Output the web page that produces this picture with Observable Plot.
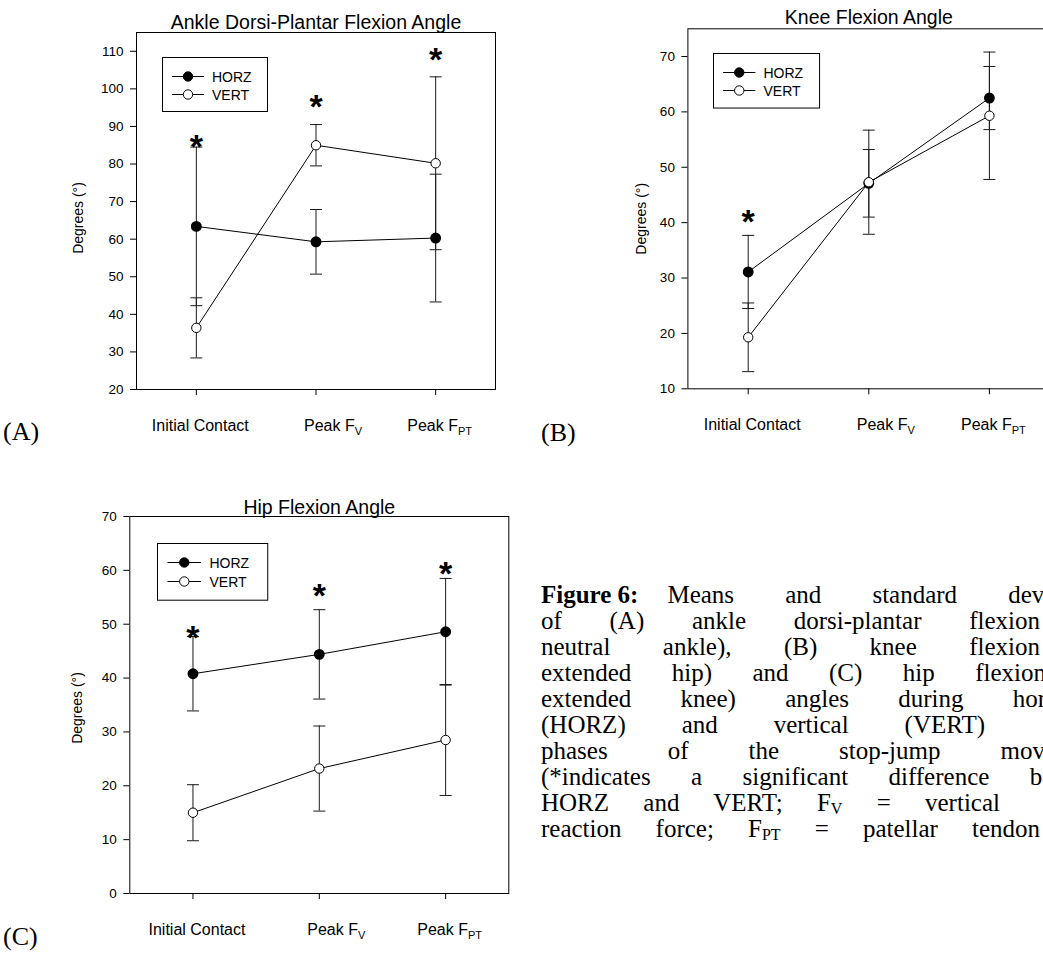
<!DOCTYPE html>
<html>
<head>
<meta charset="utf-8">
<script src="https://cdn.jsdelivr.net/npm/d3@7"></script>
<script src="https://cdn.jsdelivr.net/npm/@observablehq/plot@0.6"></script>
<style>
  html, body { margin: 0; padding: 0; background: #fff; overflow: hidden; }
  #page { position: relative; width: 1043px; height: 954px; overflow: hidden; background: #fff; }
  #caption { position: absolute; left: 541px; top: 582px;
    font-family: "Liberation Serif", "Times New Roman", serif; font-size: 25px; color: #000; }
  #caption .cl { line-height: 26px; height: 26px; text-align: justify; text-align-last: justify; white-space: normal; overflow: visible; }
  #caption sub { font-size: 16px; vertical-align: -3px; line-height: 0; }
  #caption .lead { display: inline-block; font-weight: bold; }
  #caption .gap { display: inline-block; width: 29px; }
</style>
</head>
<body>
<div id="page"></div>
<script>
// ---------------- data ----------------
const phases = ["Initial Contact", "Peak F_V", "Peak F_PT"];
const groups = ["HORZ", "VERT"];
const yLabel = "Degrees (°)";

const ankleTitle = "Ankle Dorsi-Plantar Flexion Angle";
const ankleTicks = [20, 30, 40, 50, 60, 70, 80, 90, 100, 110];
const ankleHorzMean = [63.4, 59.3, 60.3];
const ankleHorzSD = [21.1, 8.6, 17.0];
const ankleVertMean = [36.4, 85.0, 80.2];
const ankleVertSD = [8.0, 5.5, 23.0];
const ankleStars = [86.7, 97.4, 109.8];

const kneeTitle = "Knee Flexion Angle";
const kneeTicks = [10, 20, 30, 40, 50, 60, 70];
const kneeHorzMean = [31.1, 47.1, 62.5];
const kneeHorzSD = [6.6, 6.1, 5.7];
const kneeVertMean = [19.3, 47.3, 59.3];
const kneeVertSD = [6.2, 9.4, 11.5];
const kneeStars = [41.6, null, null];

const hipTitle = "Hip Flexion Angle";
const hipTicks = [0, 10, 20, 30, 40, 50, 60, 70];
const hipHorzMean = [40.8, 44.4, 48.6];
const hipHorzSD = [6.9, 8.3, 9.9];
const hipVertMean = [15.0, 23.2, 28.5];
const hipVertSD = [5.2, 7.9, 10.3];
const hipStars = [48.9, 56.8, 60.9];

const panelLabels = ["(A)", "(B)", "(C)"];

// caption, one entry per printed line (the page crops the right end of several lines)
const captionLines = [
  "<span class='lead'>Figure 6:</span><span class='gap'></span>Means and standard deviations",
  "of (A) ankle dorsi-plantar flexion",
  "neutral ankle), (B) knee flexion",
  "extended hip) and (C) hip flexion",
  "extended knee) angles during horizontal",
  "(HORZ) and vertical (VERT)",
  "phases of the stop-jump movement",
  "(*indicates a significant difference between",
  "HORZ and VERT; F<sub>V</sub> = vertical",
  "reaction force; F<sub>PT</sub> = patellar tendon"
];
// justified width of each printed line (layout)
const captionWidths = [570, 499, 499, 505, 573, 444, 565, 572, 459, 499];

// ---------------- helpers ----------------
const page = document.getElementById("page");
const SANS = "'Liberation Sans', Arial, Helvetica, sans-serif";

const capSymbol = {
  draw(context, size) {
    const w = Math.sqrt(size / Math.PI);
    context.moveTo(-w, 0);
    context.lineTo(w, 0);
  }
};

function subscriptify(svg) {
  d3.select(svg).selectAll("text").each(function () {
    const t = this.textContent;
    if (t.includes("_") && this.childElementCount === 0) {
      const [main, sub] = t.split("_");
      this.textContent = main;
      const ts = document.createElementNS("http://www.w3.org/2000/svg", "tspan");
      ts.setAttribute("dy", "4");
      ts.setAttribute("font-size", "11");
      ts.textContent = sub;
      this.appendChild(ts);
    }
  });
}

function panel(cfg) {
  const rows = [];
  groups.forEach((g, gi) => {
    const m = gi === 0 ? cfg.horzMean : cfg.vertMean;
    const s = gi === 0 ? cfg.horzSD : cfg.vertSD;
    phases.forEach((p, i) => rows.push({group: g, i, mean: m[i], lo: m[i] - s[i], hi: m[i] + s[i]}));
  });
  const caps = rows.flatMap(d => [{i: d.i, y: d.lo}, {i: d.i, y: d.hi}]);
  const stars = cfg.stars.map((v, i) => ({i, v})).filter(d => d.v != null);
  const xShift = [4, 17, 4];

  const svg = Plot.plot({
    width: cfg.width,
    height: cfg.height,
    marginLeft: cfg.ml,
    marginRight: cfg.mr,
    marginTop: cfg.mt,
    marginBottom: cfg.mb,
    x: {domain: [-0.5, 2.5]},
    y: {domain: cfg.yDomain},
    style: {fontFamily: SANS, color: "#000", background: "transparent", overflow: "visible"},
    marks: [
      Plot.frame({stroke: "#000", strokeWidth: 1}),
      Plot.axisY({ticks: cfg.ticks, tickSize: 6, tickPadding: 7, fontSize: 13.5, label: null, tickFormat: d => d}),
      Plot.axisX({ticks: [0, 1, 2], tickSize: 6, tickFormat: () => "", label: null}),
      Plot.ruleX(rows, {x: "i", y1: "lo", y2: "hi", stroke: "#1a1a1a", strokeWidth: 1}),
      Plot.dot(caps, {x: "i", y: "y", symbol: capSymbol, r: 6, stroke: "#1a1a1a", fill: "none", strokeWidth: 1}),
      Plot.line(rows, {x: "i", y: "mean", z: "group", stroke: "#000", strokeWidth: 1}),
      Plot.dot(rows.filter(d => d.group === "HORZ"), {x: "i", y: "mean", r: 4.7, fill: "#000", stroke: "#000"}),
      Plot.dot(rows.filter(d => d.group === "VERT"), {x: "i", y: "mean", r: 4.7, fill: "#fff", stroke: "#000", strokeWidth: 1}),
      Plot.text(stars, {x: "i", y: "v", text: () => "*", fontSize: 34, fontWeight: "bold", lineAnchor: "bottom", dy: 19}),
      Plot.text([cfg.title], {frameAnchor: "top", lineAnchor: "bottom", dy: -cfg.titleGap, fontSize: 19.5}),
      ...phases.map((p, i) => Plot.text([p], {x: [i], frameAnchor: "bottom", lineAnchor: "bottom", dy: 41, dx: xShift[i], fontSize: 16})),
      Plot.text([yLabel], {frameAnchor: "left", rotate: -90, textAnchor: "middle", lineAnchor: "middle", dx: -cfg.ylabelDx, dy: cfg.ylabelDy, fontSize: 14})
    ]
  });
  subscriptify(svg);
  svg.style.position = "absolute";
  svg.style.left = cfg.left + "px";
  svg.style.top = cfg.top + "px";
  page.appendChild(svg);
}

function legend(left, top, s) {
  const w = 105 * s, h = 54 * s;
  const svg = d3.select(page).append("svg")
    .attr("width", w + 2).attr("height", h + 2)
    .style("position", "absolute").style("left", left + "px").style("top", top + "px");
  svg.append("rect").attr("x", 0.5).attr("y", 0.5).attr("width", w).attr("height", h)
    .attr("fill", "#fff").attr("stroke", "#000").attr("stroke-width", 1);
  groups.forEach((g, k) => {
    const cy = Math.round((18.5 + k * 18) * s) + 0.5;
    svg.append("line").attr("x1", 10 * s).attr("x2", 42 * s).attr("y1", cy).attr("y2", cy)
      .attr("stroke", "#000").attr("stroke-width", 1);
    svg.append("circle").attr("cx", 26 * s).attr("cy", cy).attr("r", 4.7)
      .attr("fill", k === 0 ? "#000" : "#fff").attr("stroke", "#000").attr("stroke-width", 1);
    svg.append("text").attr("x", 50 * s).attr("y", cy + 5).attr("font-family", SANS)
      .attr("font-size", 14).attr("fill", "#000").text(g);
  });
}

// ---------------- panels ----------------
panel({title: ankleTitle, ticks: ankleTicks, yDomain: [20, 115],
  horzMean: ankleHorzMean, horzSD: ankleHorzSD, vertMean: ankleVertMean, vertSD: ankleVertSD, stars: ankleStars,
  left: 0, top: 0, width: 520, height: 460, ml: 136, mr: 25, mt: 32, mb: 71, titleGap: 4, ylabelDx: 58, ylabelDy: 7});
panel({title: kneeTitle, ticks: kneeTicks, yDomain: [10, 75],
  horzMean: kneeHorzMean, horzSD: kneeHorzSD, vertMean: kneeVertMean, vertSD: kneeVertSD, stars: kneeStars,
  left: 540, top: 0, width: 520, height: 460, ml: 147.4, mr: 10.8, mt: 28.3, mb: 71.7, titleGap: 5, ylabelDx: 46, ylabelDy: 10});
panel({title: hipTitle, ticks: hipTicks, yDomain: [0, 70],
  horzMean: hipHorzMean, horzSD: hipHorzSD, vertMean: hipVertMean, vertSD: hipVertSD, stars: hipStars,
  left: 0, top: 480, width: 530, height: 474, ml: 129.3, mr: 21.7, mt: 36, mb: 61, titleGap: 3, ylabelDx: 52, ylabelDy: 3});

legend(161.5, 57, 1);
legend(713, 53, 1.01);
legend(156.5, 543, 1.05);

// ---------------- panel labels ----------------
const lab = d3.select(page).append("svg").attr("width", 1043).attr("height", 954)
  .style("position", "absolute").style("left", "0px").style("top", "0px").style("pointer-events", "none");
[[3, 440], [541, 441], [3, 945]].forEach(([x, y], k) => {
  lab.append("text").attr("x", x).attr("y", y).attr("font-family", "'Liberation Serif', 'Times New Roman', serif")
    .attr("font-size", 26).attr("fill", "#000").text(panelLabels[k]);
});

// ---------------- caption ----------------
const cap = d3.select(page).append("div").attr("id", "caption");
captionLines.forEach((l, k) => {
  cap.append("div").attr("class", "cl").style("width", captionWidths[k] + "px").html(l);
});
</script>
</body>
</html>
